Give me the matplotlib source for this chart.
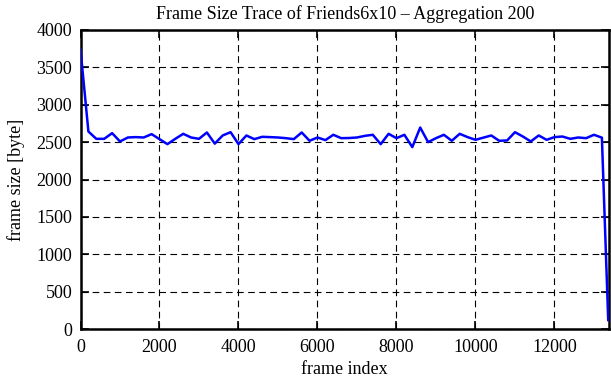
import matplotlib
matplotlib.use("Agg")
import matplotlib.pyplot as plt

frame_index = [0, 200, 400, 600, 800, 1000, 1200, 1400, 1600, 1800,
               2000, 2200, 2400, 2600, 2800, 3000, 3200, 3400, 3600, 3800,
               4000, 4200, 4400, 4600, 4800, 5000, 5200, 5400, 5600, 5800,
               6000, 6200, 6400, 6600, 6800, 7000, 7200, 7400, 7600, 7800,
               8000, 8200, 8400, 8600, 8800, 9000, 9200, 9400, 9600, 9800,
               10000, 10200, 10400, 10600, 10800, 11000, 11200, 11400, 11600, 11800,
               12000, 12200, 12400, 12600, 12800, 13000, 13200, 13360]
frame_size = [3740, 2642, 2544, 2544, 2620, 2509, 2562, 2567, 2562, 2607,
              2540, 2473, 2544, 2611, 2562, 2544, 2629, 2480, 2589, 2633,
              2473, 2589, 2540, 2571, 2567, 2562, 2553, 2540, 2629, 2518,
              2562, 2527, 2598, 2553, 2555, 2562, 2584, 2598, 2473, 2611,
              2553, 2598, 2433, 2695, 2500, 2553, 2598, 2518, 2611, 2567,
              2531, 2560, 2589, 2518, 2522, 2633, 2575, 2509, 2589, 2531,
              2567, 2575, 2544, 2562, 2553, 2598, 2560, 120]

x_ticks = [0, 2000, 4000, 6000, 8000, 10000, 12000]
y_ticks = [0, 500, 1000, 1500, 2000, 2500, 3000, 3500, 4000]

plt.rcParams['font.family'] = ['Liberation Serif', 'DejaVu Serif']
plt.rcParams['font.size'] = 13

fig = plt.figure(figsize=(6.11, 3.80), dpi=100)
ax = fig.add_axes([80.5 / 611, 51 / 380, (609 - 80.5) / 611, 299 / 380])

ax.plot(frame_index, frame_size, color='#0000ff', lw=1.8, zorder=3)

ax.set_xlim(0, 13380)
ax.set_ylim(0, 4000)
ax.set_xticks(x_ticks)
ax.set_yticks(y_ticks)
ax.grid(True, color='black', linestyle=(0, (6, 4)), linewidth=0.8)
ax.tick_params(direction='in', length=6, width=1.2, top=True, right=True,
               labelsize=13)
ax.tick_params(axis='x', pad=7)
ax.tick_params(axis='y', pad=6)
for s in ax.spines.values():
    s.set_linewidth(1.8)

ax.set_title('Frame Size Trace of Friends6x10 – Aggregation 200', fontsize=13, pad=8)
ax.set_xlabel('frame index', fontsize=13, labelpad=4)
ax.set_ylabel('frame size [byte]', fontsize=13, labelpad=8)

fig.savefig('out.png', dpi=100)
